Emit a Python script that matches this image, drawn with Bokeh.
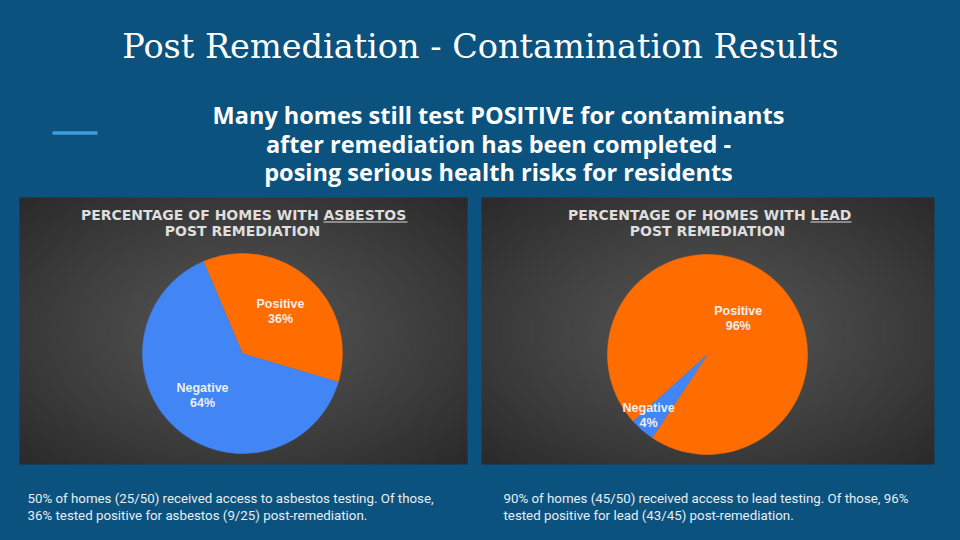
import numpy as np
from bokeh.plotting import figure
from bokeh.models import Range1d, ColumnDataSource
from bokeh.core.properties import value
from bokeh.embed import file_html
from bokeh.resources import INLINE

# ---------------- data ----------------
slide_title = "Post Remediation - Contamination Results"
subtitle_lines = [
    "Many homes still test POSITIVE for contaminants",
    "after remediation has been completed -",
    "posing serious health risks for residents",
]
categories = ["Positive", "Negative"]
asbestos_pct = [36, 64]
lead_pct = [96, 4]
asbestos_title = ["PERCENTAGE OF HOMES WITH ", "ASBESTOS", "POST REMEDIATION"]
lead_title = ["PERCENTAGE OF HOMES WITH ", "LEAD", "POST REMEDIATION"]
asbestos_caption = [
    "50% of homes (25/50) received access to asbestos testing. Of those,",
    "36% tested positive for asbestos (9/25) post-remediation.",
]
lead_caption = [
    "90% of homes (45/50) received access to lead testing. Of those, 96%",
    "tested positive for lead (43/45) post-remediation.",
]

# ---------------- style ----------------
BG = "#0b527e"
ACCENT = "#3a9ee0"
COLOR_MAP = {"Positive": "#ff6d01", "Negative": "#4285f4"}
W, H = 960, 540
R = 100


def Y(r):
    # reference pixel row -> data y
    return 540 - r


p = figure(width=W, height=H, x_range=Range1d(0, 960), y_range=Range1d(0, 540),
           output_backend="svg", toolbar_location=None, min_border=0)
p.axis.visible = False
p.grid.visible = False
p.outline_line_color = None
p.background_fill_color = BG
p.border_fill_color = BG


def draw_panel(x0, x1, y0, y1):
    w, h = int(x1 - x0), int(y1 - y0)
    xx, yy = np.meshgrid(np.linspace(-1, 1, w), np.linspace(-1, 1, h))
    t = np.clip(np.sqrt(xx ** 2 + yy ** 2) / 1.41, 0, 1)
    g = (84 - 42 * t ** 1.2).astype(np.uint8)
    img = np.empty((h, w), dtype=np.uint32)
    v = img.view(dtype=np.uint8).reshape((h, w, 4))
    v[..., 0] = g
    v[..., 1] = g
    v[..., 2] = g
    v[..., 3] = 255
    p.image_rgba(image=[img], x=x0, y=Y(y1), dw=x1 - x0, dh=y1 - y0)


def txt(x, y, s, size, color, font, style="normal", align="center"):
    p.text(x=[x], y=[Y(y)], text=[s], text_font=value(font), text_font_size=f"{size}px",
           text_font_style=style, text_color=color, text_align=align, text_baseline="middle")


def draw_pie(cx, cy, values, start_deg, label_r, label_dx, title, split_x, ul_end, caption, cap_x):
    vals = np.array(values, dtype=float)
    frac = vals / vals.sum()
    cum = np.concatenate([[0.0], np.cumsum(frac)])
    a0 = np.deg2rad(start_deg)
    start = a0 - 2 * np.pi * cum[:-1]
    end = a0 - 2 * np.pi * cum[1:]
    colors = [COLOR_MAP[c] for c in categories]
    src = ColumnDataSource(dict(start=start, end=end, color=colors))
    p.wedge(x=cx, y=Y(cy), radius=R, start_angle="start", end_angle="end", direction="clock",
            fill_color="color", line_color="color", line_width=0.5, source=src)
    mid = (start + end) / 2
    lx = cx + np.array(label_r) * R * np.cos(mid) + np.array(label_dx)
    ly = Y(cy) + np.array(label_r) * R * np.sin(mid)
    lab = ColumnDataSource(dict(x=lx, yn=ly + 7.5, yp=ly - 7.5, name=categories,
                                pct=[f"{int(v)}%" for v in values]))
    for ycol, tcol in (("yn", "name"), ("yp", "pct")):
        p.text(x="x", y=ycol, text=tcol, source=lab, text_font=value("Liberation Sans"),
               text_font_size="12.5px", text_font_style="bold", text_color="#eeeeee",
               text_align="center", text_baseline="middle")
    # panel title
    txt(split_x, 214.5, title[0], 14, "#dedede", "DejaVu Sans", "bold", align="right")
    txt(split_x, 214.5, title[1], 14, "#dedede", "DejaVu Sans", "bold", align="left")
    p.segment(x0=[split_x], y0=[Y(221.5)], x1=[ul_end], y1=[Y(221.5)], line_color="#dedede", line_width=1.2)
    txt(cx, 230.5, title[2], 14, "#dedede", "DejaVu Sans", "bold")
    # caption
    for i, line in enumerate(caption):
        txt(cap_x, 498 + 17 * i, line, 13.3, "#e8eef3", "Roboto", align="left")


# panels
draw_panel(19, 467, 197, 464)
draw_panel(481, 934, 197, 464)

draw_pie(242, 353, asbestos_pct, 113, [0.57, 0.57], [0, -2], asbestos_title, 323, 407, asbestos_caption, 27)
draw_pie(707, 354, lead_pct, 222, [0.47, 0.81], [0, -6], lead_title, 810, 851, lead_caption, 503)

# title & subtitle
txt(480, 46, slide_title, 33.5, "#ffffff", "DejaVu Serif")
for i, line in enumerate(subtitle_lines):
    txt(498, 114.5 + 28.7 * i, line, 23.5, "#ffffff", "Open Sans", "bold")

# accent line
p.segment(x0=[52], y0=[Y(132.5)], x1=[97], y1=[Y(132.5)], line_color=ACCENT, line_width=3.5)

html = file_html(p, INLINE)
html = html.replace("</head>", "<style>html,body{background-color:%s;}</style></head>" % BG, 1)
open("out.html", "w").write(html)
